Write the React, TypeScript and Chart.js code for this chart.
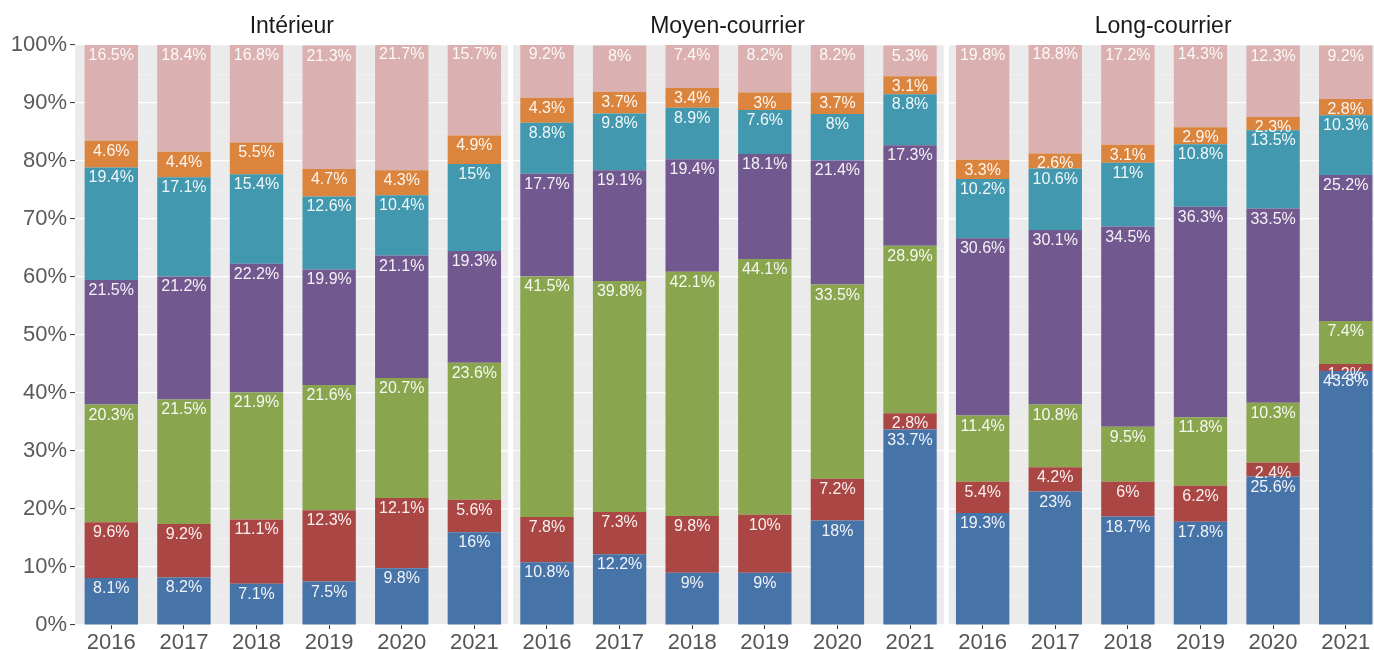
import React, { useEffect, useRef } from "react";
import { Chart, registerables } from "chart.js";

Chart.register(...registerables);

const panels = ["Intérieur", "Moyen-courrier", "Long-courrier"];
const years = ["2016", "2017", "2018", "2019", "2020", "2021"];

// Intérieur
const intBlue = [8.1, 8.2, 7.1, 7.5, 9.8, 16];
const intRed = [9.6, 9.2, 11.1, 12.3, 12.1, 5.6];
const intGreen = [20.3, 21.5, 21.9, 21.6, 20.7, 23.6];
const intPurple = [21.5, 21.2, 22.2, 19.9, 21.1, 19.3];
const intTeal = [19.4, 17.1, 15.4, 12.6, 10.4, 15];
const intOrange = [4.6, 4.4, 5.5, 4.7, 4.3, 4.9];
const intPink = [16.5, 18.4, 16.8, 21.3, 21.7, 15.7];

// Moyen-courrier
const moyBlue = [10.8, 12.2, 9, 9, 18, 33.7];
const moyRed = [7.8, 7.3, 9.8, 10, 7.2, 2.8];
const moyGreen = [41.5, 39.8, 42.1, 44.1, 33.5, 28.9];
const moyPurple = [17.7, 19.1, 19.4, 18.1, 21.4, 17.3];
const moyTeal = [8.8, 9.8, 8.9, 7.6, 8, 8.8];
const moyOrange = [4.3, 3.7, 3.4, 3, 3.7, 3.1];
const moyPink = [9.2, 8, 7.4, 8.2, 8.2, 5.3];

// Long-courrier
const lngBlue = [19.3, 23, 18.7, 17.8, 25.6, 43.8];
const lngRed = [5.4, 4.2, 6, 6.2, 2.4, 1.2];
const lngGreen = [11.4, 10.8, 9.5, 11.8, 10.3, 7.4];
const lngPurple = [30.6, 30.1, 34.5, 36.3, 33.5, 25.2];
const lngTeal = [10.2, 10.6, 11, 10.8, 13.5, 10.3];
const lngOrange = [3.3, 2.6, 3.1, 2.9, 2.3, 2.8];
const lngPink = [19.8, 18.8, 17.2, 14.3, 12.3, 9.2];

const seriesColors = ["#4673A8", "#AA4644", "#89A54E", "#71588F", "#4198AF", "#DB843D", "#DAB0B0"];

const FONT = '"Liberation Sans", Arial, sans-serif';

export default function App() {
  const ref = useRef<HTMLCanvasElement | null>(null);

  useEffect(() => {
    document.body.style.margin = "0";
    const series = [
      [...intBlue, ...moyBlue, ...lngBlue],
      [...intRed, ...moyRed, ...lngRed],
      [...intGreen, ...moyGreen, ...lngGreen],
      [...intPurple, ...moyPurple, ...lngPurple],
      [...intTeal, ...moyTeal, ...lngTeal],
      [...intOrange, ...moyOrange, ...lngOrange],
      [...intPink, ...moyPink, ...lngPink],
    ];
    const labels = [...years, ...years, ...years];

    const panelPlugin = {
      id: "panels",
      beforeDraw(chart: any) {
        const { ctx, chartArea } = chart;
        ctx.save();
        ctx.fillStyle = "#EBEBEB";
        ctx.fillRect(chartArea.left, chartArea.top, chartArea.right - chartArea.left, chartArea.bottom - chartArea.top);
        ctx.restore();
      },
      beforeDatasetsDraw(chart: any) {
        const { ctx, chartArea } = chart;
        const pw = (chartArea.right - chartArea.left) / 3;
        ctx.save();
        ctx.fillStyle = "#ffffff";
        for (let k = 1; k < 3; k++) {
          const x = chartArea.left + k * pw;
          ctx.fillRect(x - 2.5, chartArea.top, 5, chartArea.bottom - chartArea.top);
        }
        ctx.restore();
      },
      afterDraw(chart: any) {
        const { ctx, chartArea } = chart;
        const pw = (chartArea.right - chartArea.left) / 3;
        ctx.save();
        ctx.font = `23px ${FONT}`;
        ctx.fillStyle = "#1a1a1a";
        ctx.textAlign = "center";
        ctx.textBaseline = "alphabetic";
        panels.forEach((p, k) => {
          ctx.fillText(p, chartArea.left + (k + 0.5) * pw - 1, 33);
        });
        // value labels
        ctx.font = `16px ${FONT}`;
        ctx.fillStyle = "rgba(255,255,255,0.92)";
        chart.data.datasets.forEach((ds: any, di: number) => {
          const meta = chart.getDatasetMeta(di);
          meta.data.forEach((bar: any, i: number) => {
            const v = ds.data[i];
            const top = Math.min(bar.y, bar.base);
            ctx.fillText(`${v}%`, bar.x, top + 15);
          });
        });
        ctx.restore();
      },
    };

    const chart = new Chart(ref.current as HTMLCanvasElement, {
      type: "bar",
      data: {
        labels,
        datasets: series.map((d, i) => ({
          label: `s${i}`,
          data: d,
          backgroundColor: seriesColors[i],
          borderWidth: 0,
          categoryPercentage: 1,
          barPercentage: 0.735,
        })),
      },
      options: {
        responsive: false,
        animation: false,
        devicePixelRatio: 1,
        layout: { padding: { top: 45, left: 0, right: 0, bottom: 0 } },
        plugins: { legend: { display: false }, tooltip: { enabled: false } },
        scales: {
          x: {
            stacked: true,
            offset: true,
            border: { display: false },
            grid: {
              offset: false,
              drawOnChartArea: false,
              drawTicks: true,
              tickLength: 4,
              tickColor: "#333333",
              tickWidth: 1,
            },
            ticks: {
              font: { family: FONT, size: 22 },
              color: "#555555",
              padding: 1,
              maxRotation: 0,
              autoSkip: false,
            },
            afterFit(scale: any) {
              scale.height = 25;
            },
          },
          y: {
            stacked: true,
            min: 0,
            max: 100,
            border: { display: false },
            grid: {
              color: (c: any) => (c.tick && c.tick.value % 10 === 0 ? "#ffffff" : "#F5F5F5"),
              lineWidth: (c: any) => (c.tick && c.tick.value % 10 === 0 ? 1.2 : 0.6),
              tickLength: 5,
              tickWidth: 1,
              tickColor: (c: any) => (c.tick && c.tick.value % 10 === 0 ? "#333333" : "rgba(0,0,0,0)"),
            },
            ticks: {
              stepSize: 5,
              autoSkip: false,
              font: { family: FONT, size: 22 },
              color: "#5a5a5a",
              padding: 3,
              callback: (v: any) => (Number(v) % 10 === 0 ? `${v}%` : ""),
            },
            afterFit(scale: any) {
              scale.width = 75;
            },
          },
        },
      },
      plugins: [panelPlugin],
    } as any);

    return () => chart.destroy();
  }, []);

  return (
    <div style={{ width: 1374, height: 650, overflow: "hidden", position: "relative" }}>
      <canvas ref={ref} width={1382} height={650} style={{ display: "block", width: 1382, height: 650 }} />
    </div>
  );
}
